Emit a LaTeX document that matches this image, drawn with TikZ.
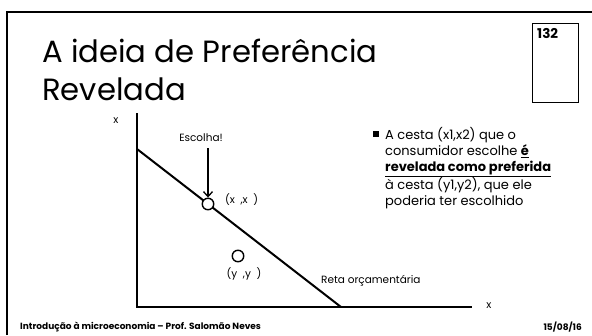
\documentclass[tikz,border=0pt]{standalone}
\usepackage{fontspec}
\setmainfont{Poppins}
\usetikzlibrary{arrows.meta}
\tikzset{
  axis/.style={line width=2pt},
  lbl/.style={font=\fontsize{10.5}{12}\selectfont, inner sep=0pt},
  bundle/.style={circle, draw, line width=1.4pt, fill=white, minimum size=11.5pt, inner sep=0pt},
}
\begin{document}
\begin{tikzpicture}[x=1pt,y=-1pt]
\useasboundingbox (0,0) rectangle (592,335);
% slide frame
\draw[line width=2pt] (7,335) -- (7,12) -- (592,12);
% title
\node[anchor=base west, inner sep=0pt, align=left, font=\fontsize{30.7}{38}\selectfont] (title) at (42,100) {A ideia de Preferência\\Revelada};
% page number box
\draw[line width=0.8pt] (532,23) rectangle (578,102);
\node[anchor=north west, inner sep=0pt, font=\bfseries\fontsize{13.5}{15}\selectfont] (pg) at (537,28) {132};
% axes
\coordinate (O) at (137,307);
\coordinate (Ytop) at (137,113);
\coordinate (Xend) at (472,307);
\draw[axis] (Ytop) -- (O) -- (Xend);
\node[lbl] (ylab) at (116,121) {x};
\node[lbl] (xlab) at (489,306) {x};
% budget line
\coordinate (B1) at (137,149);
\coordinate (B2) at (341,307);
\draw[line width=2pt] (B1) -- (B2);
\node[lbl, anchor=west] (reta) at (321,281) {Reta orçamentária};
% bundles
\node[bundle] (xb) at (208,204) {};
\node[lbl, anchor=west] (xtxt) at (225,200) {(x\ \ ,x\ \ )};
\node[bundle] (yb) at (238,256) {};
\node[lbl] (ytxt) at (244,274) {(y\ \ ,y\ \ )};
\node[lbl] (esc) at (201,138) {Escolha!};
\coordinate (arrstart) at (208,148);
\draw[line width=1.3pt, -{Straight Barb[length=5pt,width=9pt]}] (arrstart) -- (xb.north);
% bullet text
\node[anchor=north west, inner sep=0pt, align=left, font=\fontsize{13}{16}\selectfont] (bul) at (385,127)
 {A cesta (x1,x2) que o\\consumidor escolhe \underline{\textbf{é}}\\\underline{\textbf{revelada como preferida}}\\à cesta (y1,y2), que ele\\poderia ter escolhido};
\node[fill=black, minimum size=5.5pt, inner sep=0pt] (sq) at (376,134) {};
% footer
\node[anchor=west, inner sep=0pt, font=\bfseries\fontsize{9}{10}\selectfont] (foot) at (20,327) {Introdução à microeconomia – Prof. Salomão Neves};
\node[anchor=east, inner sep=0pt, font=\bfseries\fontsize{9}{10}\selectfont] (date) at (582,327) {15/08/16};
\end{tikzpicture}
\end{document}
